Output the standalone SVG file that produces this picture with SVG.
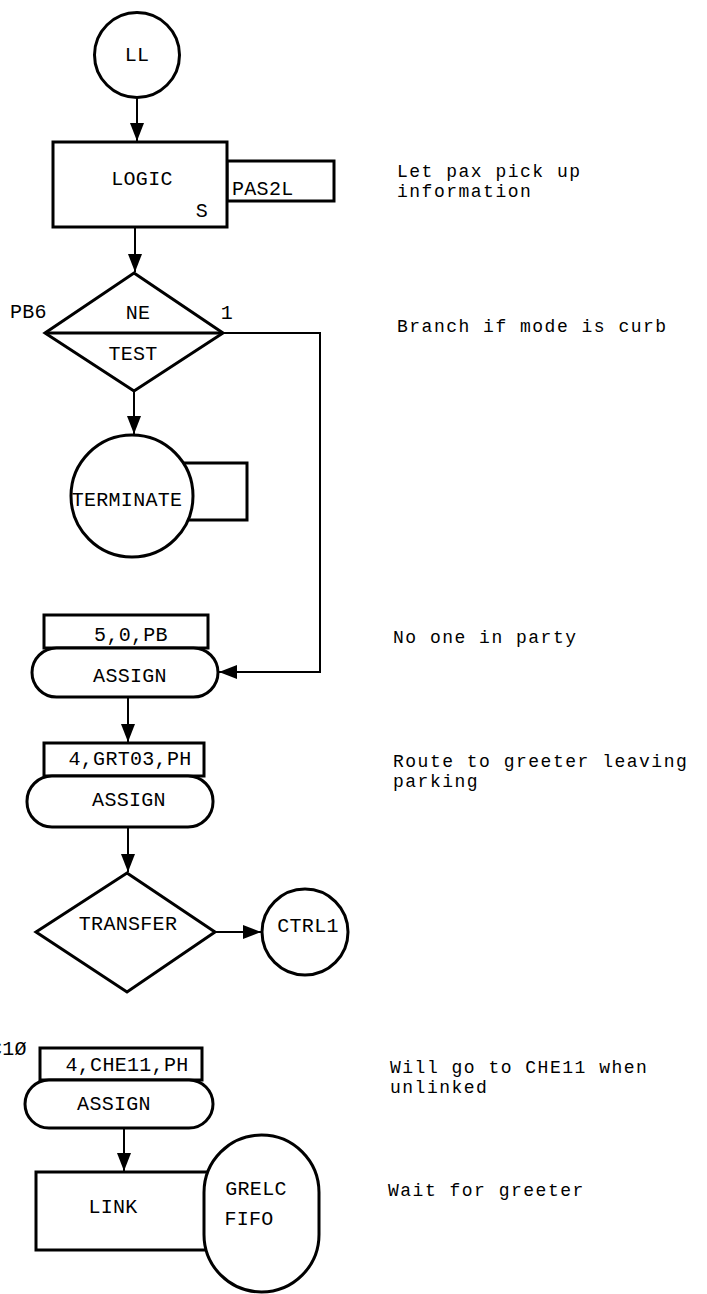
<svg xmlns="http://www.w3.org/2000/svg" width="707" height="1294" viewBox="0 0 707 1294">
<style>
.n{fill:#fff;stroke:#000;stroke-width:3}
.c{fill:none;stroke:#000;stroke-width:2}
text{font-family:"Liberation Mono","Courier New",monospace;font-size:20px;letter-spacing:0.3px;fill:#000}
.m{text-anchor:middle}
.k{font-size:18px;letter-spacing:1.5px}
</style>
<defs>
<marker id="ah" markerUnits="userSpaceOnUse" markerWidth="18" markerHeight="14" refX="18" refY="7" orient="auto">
<path d="M0,0 L18,7 L0,14 z" fill="#000"/>
</marker>
</defs>
<rect width="707" height="1294" fill="#fff"/>
<g id="connectors">
<line class="c" x1="137" y1="97" x2="137" y2="141" marker-end="url(#ah)"/>
<line class="c" x1="135" y1="227" x2="135" y2="272" marker-end="url(#ah)"/>
<line class="c" x1="134" y1="391" x2="134" y2="434" marker-end="url(#ah)"/>
<polyline class="c" points="223,333 320,333 320,672 219,672" marker-end="url(#ah)"/>
<line class="c" x1="128" y1="697" x2="128" y2="742" marker-end="url(#ah)"/>
<line class="c" x1="128" y1="827" x2="128" y2="872" marker-end="url(#ah)"/>
<line class="c" x1="215" y1="932" x2="261" y2="932" marker-end="url(#ah)"/>
<line class="c" x1="124" y1="1128" x2="124" y2="1171" marker-end="url(#ah)"/>
</g>
<g id="node-ll">
<circle class="n" cx="137" cy="55" r="42.5"/>
<text class="m" x="137" y="61">LL</text>
</g>
<g id="node-logic">
<rect class="n" x="227" y="161" width="107" height="40"/>
<rect class="n" x="53" y="142" width="174" height="85"/>
<text class="m" x="142" y="185">LOGIC</text>
<text class="m" x="202" y="217">S</text>
<text x="232" y="195">PAS2L</text>
</g>
<g id="node-test">
<polygon class="n" points="134,273 223,333 134,391 45,333"/>
<line class="n" x1="45" y1="333" x2="223" y2="333"/>
<text class="m" x="138" y="319">NE</text>
<text class="m" x="133" y="360">TEST</text>
<text x="10" y="318">PB6</text>
<text class="m" x="227" y="319">1</text>
</g>
<g id="node-terminate">
<path class="n" d="M180,463 H247 V520 H185"/>
<circle class="n" cx="132" cy="496" r="61"/>
<text class="m" x="127" y="506">TERMINATE</text>
</g>
<g id="node-assign1">
<rect class="n" x="44" y="615" width="164" height="33"/>
<rect class="n" x="32" y="648" width="186" height="49" rx="24.5"/>
<text class="m" x="131" y="641">5,0,PB</text>
<text class="m" x="130" y="682">ASSIGN</text>
</g>
<g id="node-assign2">
<rect class="n" x="44" y="743" width="160" height="33"/>
<rect class="n" x="27" y="776" width="186" height="51" rx="25"/>
<text class="m" x="130" y="765">4,GRT03,PH</text>
<text class="m" x="129" y="806">ASSIGN</text>
</g>
<g id="node-transfer">
<polygon class="n" points="127,873 215,932 127,992 36,932"/>
<text class="m" x="128" y="930">TRANSFER</text>
</g>
<g id="node-ctrl1">
<circle class="n" cx="305" cy="932" r="43"/>
<text class="m" x="308" y="932">CTRL1</text>
</g>
<g id="node-assign3">
<text x="-10" y="1055">C1Ø</text>
<rect class="n" x="40" y="1048" width="162" height="32"/>
<rect class="n" x="25" y="1080" width="188" height="48" rx="24"/>
<text class="m" x="127" y="1071">4,CHE11,PH</text>
<text class="m" x="114" y="1110">ASSIGN</text>
</g>
<g id="node-link">
<rect class="n" x="36" y="1172" width="176" height="78"/>
<rect class="n" x="204" y="1135" width="115" height="157" rx="57.5"/>
<text class="m" x="113" y="1213">LINK</text>
<text class="m" x="256" y="1195">GRELC</text>
<text class="m" x="249" y="1225">FIFO</text>
</g>
<g id="comments">
<text class="k" x="397" y="177">Let pax pick up</text>
<text class="k" x="397" y="197">information</text>
<text class="k" x="397" y="332">Branch if mode is curb</text>
<text class="k" x="393" y="643">No one in party</text>
<text class="k" x="393" y="767">Route to greeter leaving</text>
<text class="k" x="393" y="787">parking</text>
<text class="k" x="390" y="1073">Will go to CHE11 when</text>
<text class="k" x="390" y="1093">unlinked</text>
<text class="k" x="388" y="1196">Wait for greeter</text>
</g>
</svg>
